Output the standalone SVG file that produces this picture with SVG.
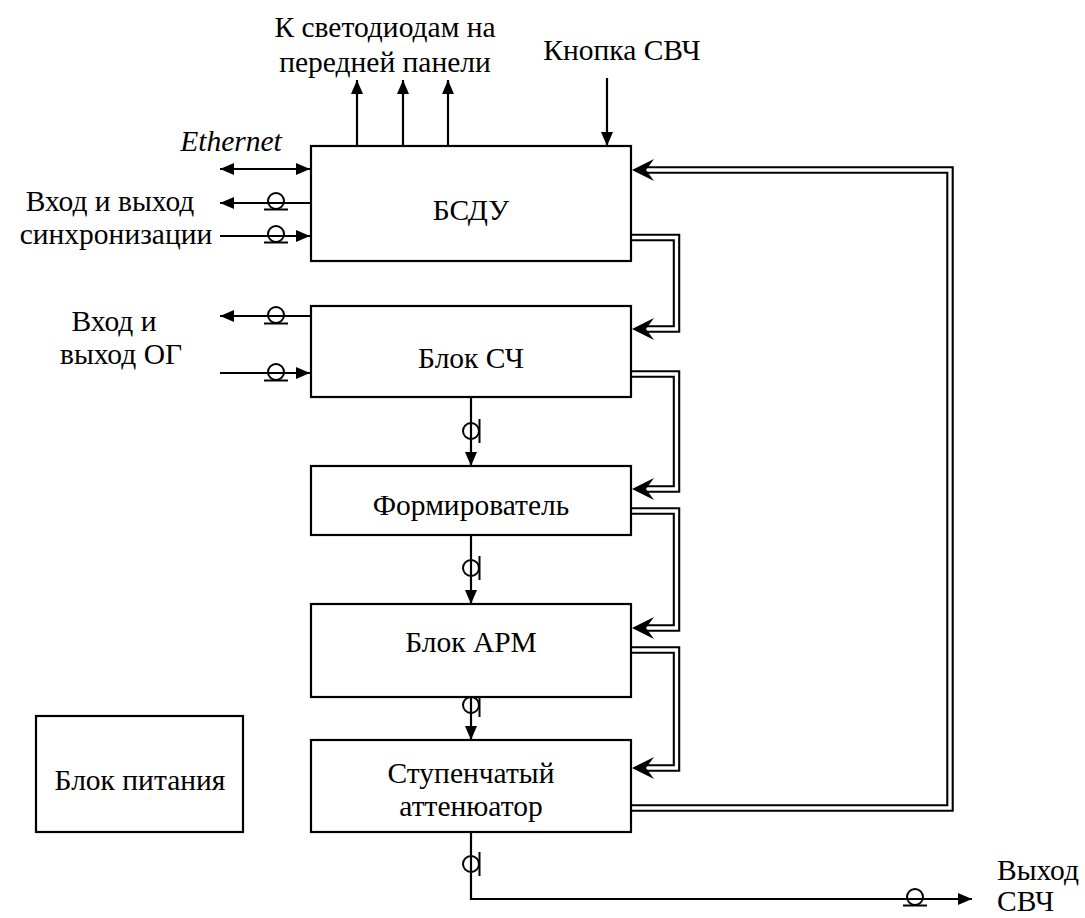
<svg xmlns="http://www.w3.org/2000/svg" width="1085" height="918" viewBox="0 0 1085 918" font-family="'Liberation Serif', 'Times New Roman', 'DejaVu Serif', serif">
<style>
text{font-family:'Liberation Serif','Times New Roman','DejaVu Serif',serif;font-size:29.5px;fill:#000}
.box{fill:#fff;stroke:#000;stroke-width:2.2}
.ln{fill:none;stroke:#000;stroke-width:2.2}
.busO{fill:none;stroke:#000;stroke-width:7.5}
.busI{fill:none;stroke:#fff;stroke-width:3.3}
.cx{fill:none;stroke:#000;stroke-width:2}
</style>
<defs>
<marker id="ah" viewBox="0 0 14 12" refX="14" refY="6" markerWidth="14" markerHeight="12" markerUnits="userSpaceOnUse" orient="auto-start-reverse"><path d="M0,0 L14,6 L0,12 Z" fill="#000"/></marker>
<path id="bah" d="M0,0 L22,-11 L14,0 L22,11 Z" fill="#000"/>
<g id="cxh"><circle cx="0" cy="0" r="8" class="cx"/><line x1="-12" y1="8.5" x2="12" y2="8.5" class="cx"/></g>
<g id="cxv"><circle cx="0" cy="0" r="8" class="cx"/><line x1="8.5" y1="-12" x2="8.5" y2="12" class="cx"/></g>
</defs>

<g id="connectors">
<line x1="357" y1="146" x2="357" y2="80" class="ln" marker-end="url(#ah)"/>
<line x1="403" y1="146" x2="403" y2="80" class="ln" marker-end="url(#ah)"/>
<line x1="448" y1="146" x2="448" y2="80" class="ln" marker-end="url(#ah)"/>
<line x1="607" y1="78" x2="607" y2="146" class="ln" marker-end="url(#ah)"/>
<line x1="220" y1="169" x2="310" y2="169" class="ln" marker-start="url(#ah)" marker-end="url(#ah)"/>
<line x1="310" y1="203" x2="220" y2="203" class="ln" marker-end="url(#ah)"/>
<use href="#cxh" x="276" y="201"/>
<line x1="220" y1="236" x2="310" y2="236" class="ln" marker-end="url(#ah)"/>
<use href="#cxh" x="276" y="234"/>
<line x1="310" y1="316" x2="220" y2="316" class="ln" marker-end="url(#ah)"/>
<use href="#cxh" x="276" y="315"/>
<line x1="220" y1="373" x2="310" y2="373" class="ln" marker-end="url(#ah)"/>
<use href="#cxh" x="276" y="372"/>
<line x1="471" y1="397" x2="471" y2="466" class="ln" marker-end="url(#ah)"/>
<use href="#cxv" x="471" y="431"/>
<line x1="471" y1="535" x2="471" y2="604" class="ln" marker-end="url(#ah)"/>
<use href="#cxv" x="471" y="568"/>
<line x1="471" y1="697" x2="471" y2="740" class="ln" marker-end="url(#ah)"/>
<use href="#cxv" x="471" y="705"/>
<polyline points="471,832 471,899 972,899" class="ln" marker-end="url(#ah)"/>
<use href="#cxv" x="471" y="864"/>
<use href="#cxh" x="915" y="897"/>
<path d="M631,237.5 H676.5 V329 H645" class="busO"/>
<path d="M631,237.5 H676.5 V329 H645" class="busI"/>
<use href="#bah" x="632" y="329"/>
<path d="M631,374 H676.5 V489 H645" class="busO"/>
<path d="M631,374 H676.5 V489 H645" class="busI"/>
<use href="#bah" x="632" y="489"/>
<path d="M631,511 H676.5 V628 H645" class="busO"/>
<path d="M631,511 H676.5 V628 H645" class="busI"/>
<use href="#bah" x="632" y="628"/>
<path d="M631,650 H676.5 V768 H645" class="busO"/>
<path d="M631,650 H676.5 V768 H645" class="busI"/>
<use href="#bah" x="632" y="768"/>
<path d="M631,808 H950 V170 H645" class="busO"/>
<path d="M631,808 H950 V170 H645" class="busI"/>
<use href="#bah" x="632" y="170"/>
</g>

<g id="bsdu"><rect x="311" y="146" width="320" height="115" class="box"/><text x="471" y="220" text-anchor="middle">БСДУ</text></g>
<g id="blok-sch"><rect x="311" y="306" width="320" height="91" class="box"/><text x="471" y="368" text-anchor="middle">Блок СЧ</text></g>
<g id="formirovatel"><rect x="311" y="466" width="320" height="69" class="box"/><text x="471" y="515" text-anchor="middle">Формирователь</text></g>
<g id="blok-arm"><rect x="311" y="604" width="320" height="93" class="box"/><text x="471" y="652" text-anchor="middle">Блок АРМ</text></g>
<g id="attenuator"><rect x="311" y="740" width="320" height="92" class="box"/><text x="471" y="783" text-anchor="middle">Ступенчатый</text><text x="471" y="816" text-anchor="middle">аттенюатор</text></g>
<g id="blok-pitaniya"><rect x="36" y="716" width="207" height="116" class="box"/><text x="140" y="790" text-anchor="middle">Блок питания</text></g>

<g id="labels">
<text x="385" y="37" text-anchor="middle">К светодиодам на</text>
<text x="385" y="72" text-anchor="middle">передней панели</text>
<text x="622" y="60" text-anchor="middle">Кнопка СВЧ</text>
<text x="231" y="151" text-anchor="middle" font-style="italic">Ethernet</text>
<text x="110" y="211" text-anchor="middle">Вход и выход</text>
<text x="116" y="244" text-anchor="middle">синхронизации</text>
<text x="114" y="331" text-anchor="middle">Вход и</text>
<text x="121" y="364" text-anchor="middle">выход ОГ</text>
<text x="997" y="880">Выход</text>
<text x="997" y="911">СВЧ</text>
</g>
</svg>
